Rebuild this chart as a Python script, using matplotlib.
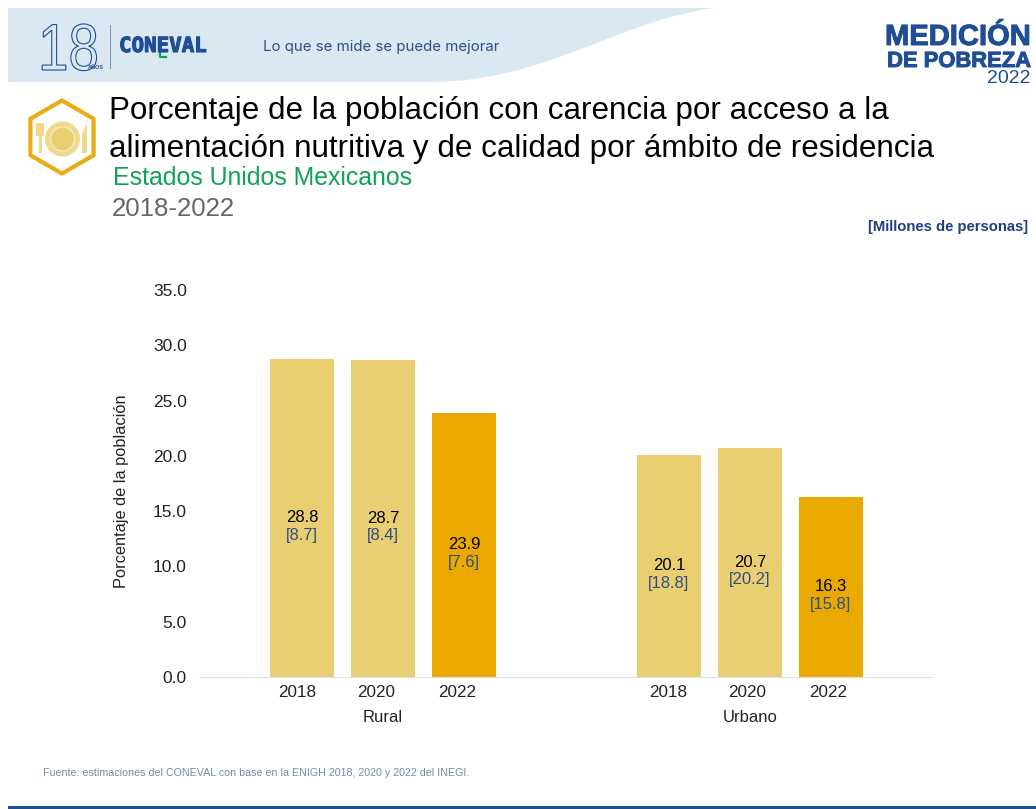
import matplotlib
matplotlib.use('Agg')
import matplotlib.pyplot as plt
import matplotlib.patheffects as pe
from matplotlib.font_manager import FontProperties
from matplotlib.patches import Rectangle, PathPatch, RegularPolygon, Circle, Polygon
from matplotlib.path import Path
from matplotlib.textpath import TextPath
from matplotlib.transforms import Affine2D, ScaledTranslation

plt.rcParams['font.family'] = ['Liberation Sans', 'DejaVu Sans']

# Data
groups = ['Rural', 'Urbano']
years = ['2018', '2020', '2022']
rural_pct = [28.8, 28.7, 23.9]
urbano_pct = [20.1, 20.7, 16.3]
rural_millions = [8.7, 8.4, 7.6]
urbano_millions = [18.8, 20.2, 15.8]
y_ticks = [0, 5, 10, 15, 20, 25, 30, 35]

LIGHT = '#E9CE72'
DARK = '#EAA900'
NAVY = '#1F4E96'
LABEL_BLUE = '#2F4F80'

W, H = 1036, 809
fig = plt.figure(figsize=(W / 100, H / 100), dpi=100, facecolor='white')

# Full page layer in pixel coordinates for the header and footer
page = fig.add_axes([0, 0, 1, 1])
page.set_xlim(0, W)
page.set_ylim(H, 0)
page.axis('off')

# Header band with the curved right edge
band = Path([(8, 8), (714, 8), (620, 20), (545, 82), (430, 82), (8, 82), (8, 8)],
            [Path.MOVETO, Path.LINETO, Path.CURVE4, Path.CURVE4, Path.CURVE4, Path.LINETO, Path.CLOSEPOLY])
page.add_patch(PathPatch(band, fc='#DAE8F2', ec='none'))

# 18 anos logo, outline digits squeezed to the logo's proportions
digits = TextPath((0, 0), '18', size=66, prop=FontProperties(family='Liberation Sans'))
digits = digits.transformed(Affine2D().scale(0.83, -1).translate(38, 70))
page.add_patch(PathPatch(digits, fc='none', ec=NAVY, lw=0.8))
page.text(88, 69, 'AÑOS', fontsize=4, color=NAVY, weight='bold', va='baseline')
page.plot([110, 110], [25, 68], color='#7E9CC0', lw=0.8)
page.text(119, 52, 'CONEVAL', fontsize=15, color=NAVY, weight='bold', va='baseline',
          family='DejaVu Sans Mono',
          path_effects=[pe.withStroke(linewidth=0.8, foreground=NAVY)])
page.plot([160, 160, 166], [44, 57, 57], color='#10A25A', lw=1.6)
page.text(263, 51, 'Lo que se mide se puede mejorar', fontsize=10.8, color='#2C4F86', va='baseline',
          family='Inter')

# Medicion de pobreza logo
logo_stroke = [pe.withStroke(linewidth=0.7, foreground=NAVY)]
page.text(1031, 45, 'MEDICIÓN', fontsize=21, color=NAVY, weight='bold', ha='right', va='baseline',
          path_effects=logo_stroke)
page.text(1031, 67, 'DE POBREZA', fontsize=15.8, color=NAVY, weight='bold', ha='right', va='baseline',
          path_effects=logo_stroke)
page.text(1031, 83, '2022', fontsize=14, color=NAVY, ha='right', va='baseline')

# Food icon
page.add_patch(RegularPolygon((62, 137), 6, radius=36.5, orientation=0, fc='white', ec='#E9AC14', lw=3,
                              joinstyle='round'))
page.add_patch(Circle((62.5, 139), 17.5, fc='#F0D98C', ec='none'))
page.add_patch(Circle((62.5, 139), 12, fc='#E9CE72', ec='#F6E8B8', lw=1.2))
page.add_patch(Rectangle((38.5, 135), 3.5, 18, fc='#F0D98C', ec='none'))
page.add_patch(Rectangle((36, 123), 8, 13, fc='#F0D98C', ec='none'))
page.add_patch(Polygon([(82, 153), (87, 153), (87, 123), (82, 134)], fc='#F0D98C', ec='none'))

# Titles
page.text(109, 119, 'Porcentaje de la población con carencia por acceso a la', fontsize=22.55,
          color='black', va='baseline')
page.text(109, 157, 'alimentación nutritiva y de calidad por ámbito de residencia', fontsize=22.55,
          color='black', va='baseline')
page.text(113, 185, 'Estados Unidos Mexicanos', fontsize=17.95, color='#10A25A', va='baseline')
page.text(112, 216, '2018-2022', fontsize=18.6, color='#666666', va='baseline')
page.text(1028, 231, '[Millones de personas]', fontsize=10.6, color='#1F3F7F', weight='bold',
          ha='right', va='baseline')

# Footer
page.text(43, 776, 'Fuente: estimaciones del CONEVAL con base en la ENIGH 2018, 2020 y 2022 del INEGI.',
          fontsize=7.7, color='#6E8CA8', va='baseline')
page.add_patch(Rectangle((8, 806), W - 8, 3, fc=NAVY, ec='none'))

# Chart
ax = fig.add_axes([200 / W, 1 - 677 / H, 733 / W, 387 / H])
ax.patch.set_alpha(0)
group_gap = 4.53
positions = [i for i in range(3)] + [group_gap + i for i in range(3)]
values = rural_pct + urbano_pct
millions = rural_millions + urbano_millions
colors = [LIGHT, LIGHT, DARK, LIGHT, LIGHT, DARK]

ax.bar(positions, values, width=0.79, color=colors)
ax.set_xlim(-1.26, 7.79)
ax.set_ylim(0, 35)

for x, v, m in zip(positions, values, millions):
    ax.annotate(f'{v:.1f}', (x, v / 2), xytext=(0, 0), textcoords='offset points', ha='center',
                va='center', fontsize=12, color='black')
    ax.annotate(f'[{m:.1f}]', (x, v / 2), xytext=(0, -12.5), textcoords='offset points', ha='center',
                va='center', fontsize=12, color=LABEL_BLUE)

ax.set_yticks(y_ticks)
ax.set_yticklabels([f'{t:.1f}' for t in y_ticks], fontsize=12.5, color='#222222')
ax.set_xticks(positions)
ax.set_xticklabels(years + years, fontsize=12.3, color='#222222')
ax.tick_params(axis='both', length=0)
ax.tick_params(axis='y', pad=9.4)
ax.tick_params(axis='x', pad=5.5)

# the year labels sit a little left of their bars in the original
label_shift = [-5, -7, -7, -1, -3, -3]
for lab, dx in zip(ax.get_xticklabels(), label_shift):
    lab.set_transform(lab.get_transform() + ScaledTranslation(dx / 100, 0, fig.dpi_scale_trans))

for s in ['top', 'right', 'left']:
    ax.spines[s].set_visible(False)
ax.spines['bottom'].set_color('#E0E0E0')

ax.set_ylabel('Porcentaje de la población', fontsize=11.8, color='#222222')
ax.yaxis.set_label_coords((129 - 200) / 733, 0.48)

for name, x in zip(groups, [1, group_gap + 1]):
    ax.annotate(name, (x, 0), xytext=(0, -29), textcoords='offset points', ha='center', va='center',
                fontsize=12, color='#222222', annotation_clip=False)

fig.savefig('out.png', dpi=100)
